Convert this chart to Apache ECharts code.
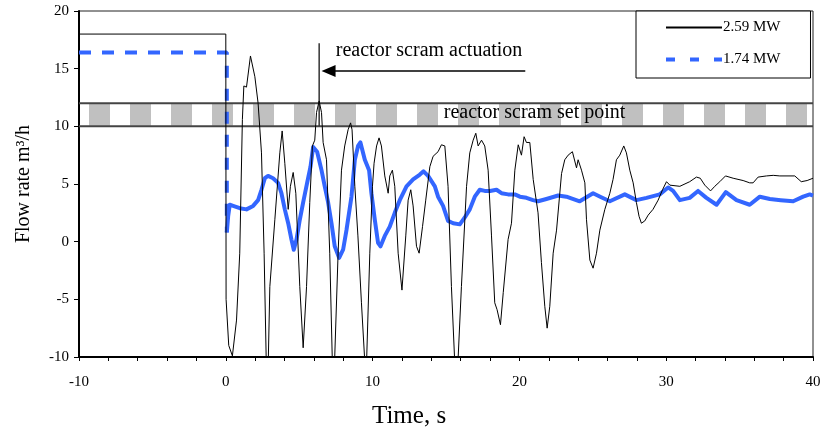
<!DOCTYPE html>
<html>
<head>
<meta charset="utf-8">
<script src="https://cdn.jsdelivr.net/npm/echarts@6/dist/echarts.min.js"></script>
<style>
  html, body { margin: 0; padding: 0; background: #fff; }
  #flowChart { width: 831px; height: 434px; }
</style>
</head>
<body>
<div id="flowChart"></div>
<script>
// time (s) / flow rate (m3/h) pairs
const run259 = [
  [-10, 18], [0, 18], [0.02, -5], [0.2, -9], [0.45, -9.9], [0.73, -6.8], [0.95, -1],
  [1.13, 10.6], [1.23, 13.5], [1.41, 13.4], [1.68, 16.1], [1.98, 14.3], [2.2, 12],
  [2.43, 7.7], [2.61, -1], [2.75, -10], [2.82, -12], [2.9, -10], [3.0, -3.9], [3.34, 1.9],
  [3.68, 7.7], [3.84, 9.6], [4.02, 6.8], [4.25, 2.8], [4.4, 4.8], [4.59, 6.0], [4.77, 4.2],
  [5.04, -3.9], [5.27, -9.2], [5.5, -3.9], [5.72, 3.4], [5.9, 8.3], [6.06, 8.8], [6.18, 11.2],
  [6.36, 12.2], [6.52, 11.2], [6.63, 8.6], [6.86, 7.1], [7.08, -1], [7.25, -10], [7.33, -12],
  [7.42, -10], [7.65, -1], [7.88, 6.2], [8.1, 8.3], [8.33, 9.7], [8.5, 10.3], [8.6, 9.7],
  [8.79, 4.8], [9.0, 0.5], [9.24, -5.3], [9.45, -10], [9.52, -11.5], [9.6, -10], [9.81, -1],
  [9.99, 4.8], [10.1, 6.8], [10.27, 8.3], [10.44, 9.0], [10.6, 8.3], [10.83, 5.7], [11.06, 4.2],
  [11.17, 5.7], [11.35, 6.2], [11.51, 4.8], [11.74, -1], [12.0, -4.2], [12.26, 0.5], [12.42, 3.6],
  [12.6, 4.5], [12.76, 3.1], [12.99, -0.4], [13.17, -1], [13.4, 1.3], [13.62, 3.6], [13.9, 6.5],
  [14.12, 7.4], [14.46, 7.8], [14.69, 8.4], [14.92, 8.3], [15.14, 4.8], [15.37, -3.9], [15.58, -10],
  [15.7, -12], [15.83, -10], [16.05, -3.9], [16.4, 4.8], [16.62, 7.7], [16.85, 8.8], [17.03, 9.4],
  [17.19, 8.3], [17.42, 8.8], [17.64, 8.3], [17.87, 6.2], [18.1, 0.5], [18.32, -5.3], [18.48, -5.9],
  [18.71, -7.2], [18.9, -4.4], [19.23, 0.2], [19.46, 1.6], [19.69, 6.2], [19.92, 8.4], [20.14, 7.5],
  [20.32, 9.1], [20.48, 8.6], [20.71, 8.6], [20.94, 5.4], [21.27, 2.5], [21.5, -1.8], [21.73, -5.6],
  [21.89, -7.5], [22.07, -5.6], [22.3, -1], [22.53, 1.0], [22.87, 5.9], [23.09, 7.1], [23.32, 7.5],
  [23.61, 7.8], [23.89, 6.4], [24.0, 7.1], [24.23, 6.2], [24.46, 5.1], [24.57, 1.9], [24.8, -1.6],
  [25.02, -2.3], [25.25, -1], [25.48, 1.0], [25.82, 2.8], [26.16, 4.2], [26.38, 5.4], [26.61, 7.1],
  [26.84, 7.5], [27.11, 8.3], [27.29, 7.7], [27.52, 6.2], [27.75, 5.1], [27.97, 3.4], [28.15, 2.2],
  [28.31, 1.6], [28.54, 1.8], [28.77, 2.3], [29.1, 2.8], [29.45, 3.6], [29.75, 4.5], [30.02, 5.2],
  [30.25, 4.9], [30.93, 4.8], [31.6, 5.2], [32.06, 5.6], [32.32, 5.5], [32.63, 4.9], [33.02, 4.4],
  [33.31, 4.8], [33.65, 5.2], [34.04, 5.7], [34.56, 5.5], [35.24, 5.3], [35.69, 5.1], [35.92, 5.1],
  [36.26, 5.6], [36.83, 5.7], [37.29, 5.75], [37.74, 5.7], [38.76, 5.7], [39.2, 5.2], [39.6, 5.3],
  [40, 5.5]
];

// 1.74 MW: steady part before the scram, then the transient
const run174Start = [[-10, 16.4], [0.07, 16.4], [0.07, 0.8]];
const run174 = [
  [0.07, 0.8], [0.16, 2.2], [0.27, 3.2], [0.5, 3.1], [0.95, 2.9], [1.41, 2.8], [1.86, 3.1],
  [2.2, 3.6], [2.43, 4.5], [2.66, 5.5], [2.88, 5.7], [3.22, 5.5], [3.56, 5.1], [3.79, 4.2],
  [4.02, 2.8], [4.25, 1.6], [4.47, 0.2], [4.63, -0.7], [4.82, 0.2], [5.04, 1.9], [5.27, 3.4],
  [5.54, 5.1], [5.77, 6.5], [5.95, 8.2], [6.22, 7.8], [6.52, 6.2], [6.74, 4.8], [6.97, 3.4],
  [7.2, 1.6], [7.42, -0.4], [7.72, -1.4], [7.99, -0.7], [8.22, 1.0], [8.56, 3.9], [8.79, 7.1],
  [9.01, 8.3], [9.17, 8.6], [9.47, 7.1], [9.76, 6.2], [9.92, 4.2], [10.15, 1.9], [10.37, -0.1],
  [10.54, -0.4], [10.83, 0.5], [11.17, 1.3], [11.51, 2.5], [11.85, 3.6], [12.31, 4.8], [12.76, 5.4],
  [13.2, 5.8], [13.47, 6.1], [13.78, 5.7], [14.24, 4.8], [14.46, 3.9], [14.8, 3.1], [15.14, 1.8],
  [15.49, 1.6], [15.94, 1.5], [16.28, 2.1], [16.62, 2.8], [16.96, 3.9], [17.3, 4.5], [17.64, 4.4],
  [18.0, 4.4], [18.44, 4.5], [18.78, 4.2], [19.23, 4.1], [19.69, 4.1], [20.03, 3.9], [20.48, 3.8],
  [20.93, 3.6], [21.27, 3.5], [21.84, 3.7], [22.64, 4.0], [23.2, 3.9], [24.11, 3.5], [25.02, 4.2],
  [25.5, 3.9], [26.16, 3.5], [27.18, 4.1], [27.97, 3.6], [28.66, 3.8], [29.56, 4.1], [30.13, 4.7],
  [30.47, 4.4], [30.93, 3.6], [31.6, 3.8], [32.17, 4.4], [32.74, 3.8], [33.43, 3.2], [34.06, 4.3],
  [34.79, 3.6], [35.69, 3.2], [36.38, 3.9], [37.06, 3.7], [37.8, 3.6], [38.65, 3.5], [39.33, 3.9],
  [39.78, 4.1], [40, 4.0]
];

const timeRange = [-10, 40];
const setPointBand = [10, 12];
const scramTime = 6.36;
const seriesNames = ['2.59 MW', '1.74 MW'];

const serif = 'Liberation Serif, Times New Roman, serif';
const blue = '#3366ff';

const chart = echarts.init(document.getElementById('flowChart'));

const bandMid = (setPointBand[0] + setPointBand[1]) / 2;

chart.setOption({
  animation: false,
  backgroundColor: '#fff',
  textStyle: { fontFamily: serif, color: '#000' },
  grid: {
    left: 79, right: 18, top: 11, bottom: 77,
    show: true, borderColor: '#222', borderWidth: 1
  },
  legend: {
    data: [
      { name: seriesNames[0] },
      { name: seriesNames[1], lineStyle: { type: [9, 15], width: 4 } }
    ],
    orient: 'vertical',
    left: 636, top: 11,
    itemWidth: 56, itemHeight: 14, itemGap: 17,
    padding: [9, 30, 11, 28],
    borderColor: '#000', borderWidth: 1,
    backgroundColor: '#fff',
    // hide the marker ECharts adds on the line icon
    itemStyle: { color: 'rgba(0,0,0,0)', borderWidth: 0, opacity: 0 },
    textStyle: { fontFamily: serif, fontSize: 15, color: '#000', padding: [0, 0, 0, -4] }
  },
  xAxis: {
    type: 'value',
    min: timeRange[0], max: timeRange[1], interval: 2,
    axisLine: { onZero: false, lineStyle: { color: '#000', width: 2 } },
    axisTick: { show: true, length: 4, lineStyle: { color: '#000' } },
    axisLabel: {
      fontFamily: serif, fontSize: 15, color: '#000', margin: 18,
      formatter: v => (v % 10 === 0 ? String(v) : '')
    },
    splitLine: { show: false }
  },
  yAxis: {
    type: 'value',
    min: -10, max: 20, interval: 5,
    name: 'Flow rate m³/h',
    nameLocation: 'middle', nameGap: 45,
    nameTextStyle: { fontFamily: serif, fontSize: 20, color: '#000' },
    axisLine: { onZero: false, lineStyle: { color: '#000', width: 2 } },
    axisTick: { show: true, length: 5, lineStyle: { color: '#000' } },
    axisLabel: { fontFamily: serif, fontSize: 15, color: '#000', margin: 10 },
    splitLine: { show: false }
  },
  series: [
    {
      // grey/white striped band between the two set point lines
      name: 'band', type: 'line', silent: true, symbol: 'none', z: 1,
      data: timeRange.map(t => [t, bandMid]),
      lineStyle: { color: '#c0c0c0', width: 22, type: [21, 20], dashOffset: 31, cap: 'butt' }
    },
    {
      name: 'low', type: 'line', silent: true, symbol: 'none', z: 2,
      data: timeRange.map(t => [t, setPointBand[0]]),
      lineStyle: { color: '#444', width: 2 }
    },
    {
      name: 'high', type: 'line', silent: true, symbol: 'none', z: 2,
      data: timeRange.map(t => [t, setPointBand[1]]),
      lineStyle: { color: '#444', width: 2 }
    },
    {
      name: 'scram', type: 'line', silent: true, symbol: 'none', z: 2,
      data: [[scramTime, 17.2], [scramTime, setPointBand[0]]],
      lineStyle: { color: '#333', width: 1.5 },
      markLine: {
        silent: true,
        symbol: ['none', 'triangle'],
        symbolSize: [12, 14],
        label: { show: false },
        lineStyle: { color: '#000', width: 1.5, type: 'solid' },
        data: [[{ coord: [20.4, 14.8] }, { coord: [7.0, 14.8] }]]
      }
    },
    {
      name: seriesNames[1], type: 'line', symbol: 'none', z: 4,
      data: run174Start,
      itemStyle: { color: blue },
      lineStyle: { color: blue, width: 4, type: [12, 11], cap: 'butt' }
    },
    {
      name: '1.74 MW transient', type: 'line', symbol: 'none', z: 4,
      data: run174,
      itemStyle: { color: blue },
      lineStyle: { color: blue, width: 4, join: 'round' }
    },
    {
      name: seriesNames[0], type: 'line', symbol: 'none', z: 5,
      data: run259,
      itemStyle: { color: '#000' },
      lineStyle: { color: '#000', width: 1 }
    }
  ]
});

// text annotations, placed in data coordinates
const at = (x, y) => chart.convertToPixel({ gridIndex: 0 }, [x, y]);
const pAct = at(7.63, 16.6);
const pSet = at(21.25, 11.05);
chart.setOption({
  graphic: [
    {
      type: 'text', left: pAct[0] - 2, top: pAct[1] - 9, z: 10,
      style: { text: 'reactor scram actuation', font: '20px ' + serif, fill: '#000' }
    },
    {
      type: 'text', left: pSet[0] - 94, top: pSet[1] - 11, z: 10,
      style: { text: 'reactor scram set point', font: '20px ' + serif, fill: '#000' }
    },
    {
      type: 'text', left: 372, top: 404, z: 10,
      style: { text: 'Time, s', font: '25px ' + serif, fill: '#000' }
    }
  ]
});

window.onresize = function() {
  chart.resize();
};
</script>
</body>
</html>
